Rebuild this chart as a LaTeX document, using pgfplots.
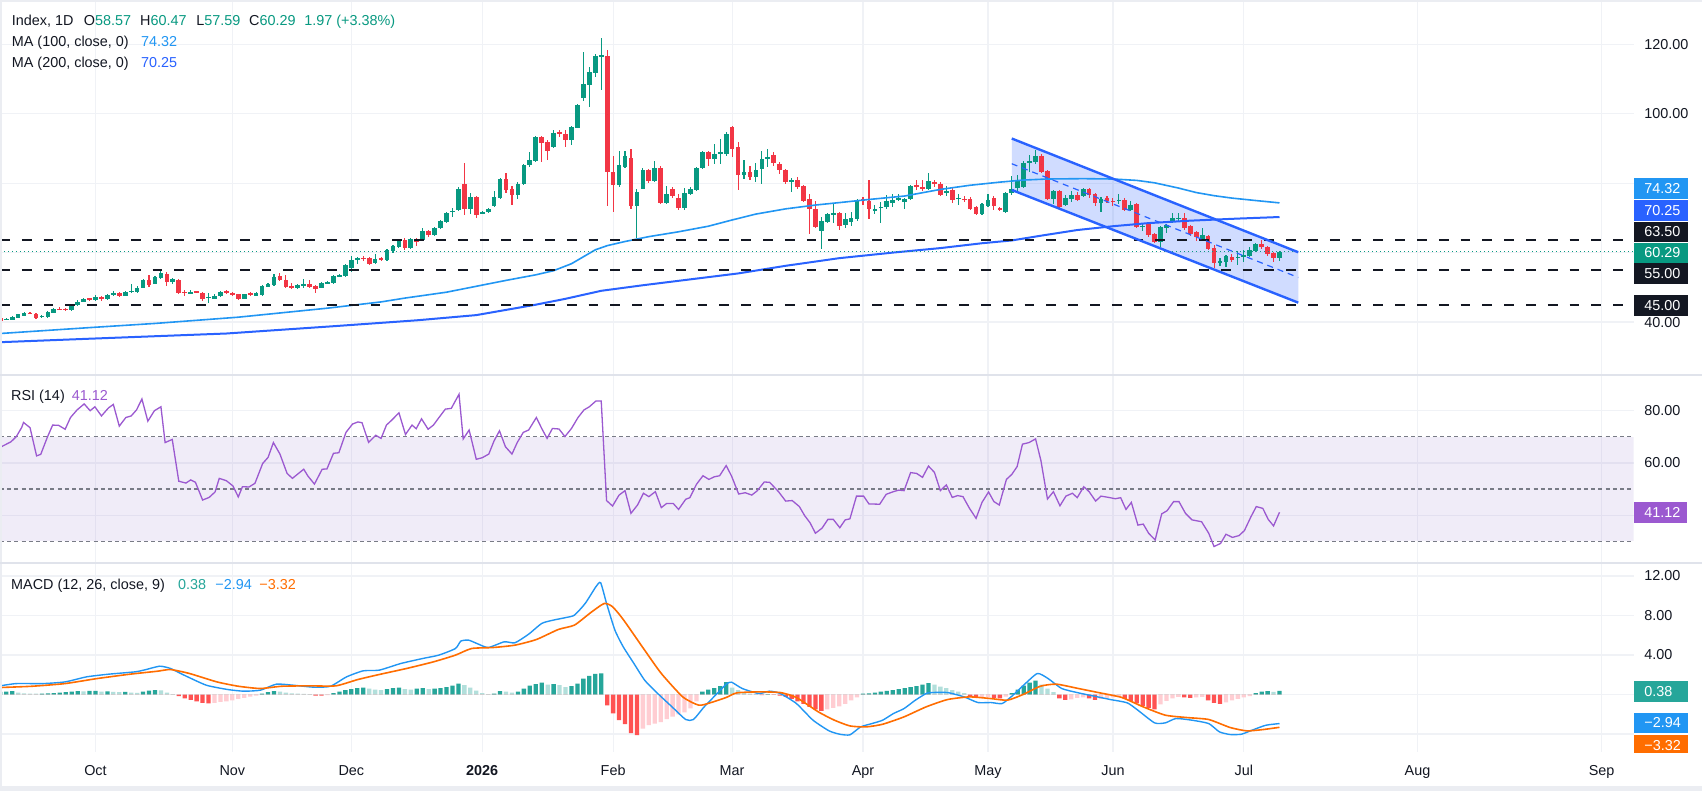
\documentclass[border=0pt]{standalone}
\usepackage{pgfplots}
\pgfplotsset{compat=1.18}
\usepackage{pgfplotstable}
\usepackage{fontspec}
\setmainfont{Liberation Sans}
\definecolor{tvgreen}{RGB}{8,153,129}
\definecolor{tvred}{RGB}{242,54,69}
\definecolor{ma100}{RGB}{33,150,243}
\definecolor{ma200}{RGB}{41,98,255}
\definecolor{chan}{RGB}{41,98,255}
\definecolor{txt}{RGB}{19,23,34}
\definecolor{gridc}{RGB}{240,242,246}
\definecolor{sepc}{RGB}{224,227,235}
\definecolor{framec}{RGB}{235,237,242}
\definecolor{rsic}{RGB}{155,89,208}
\definecolor{bandc}{RGB}{126,87,194}
\definecolor{rsidash}{RGB}{120,123,134}
\definecolor{macdc}{RGB}{33,150,243}
\definecolor{sigc}{RGB}{255,109,0}
\definecolor{hga}{RGB}{38,166,154}
\definecolor{hgb}{RGB}{178,223,219}
\definecolor{hra}{RGB}{255,82,82}
\definecolor{hrb}{RGB}{255,205,210}
\newcommand{\tvfont}{\fontsize{7.2}{8.6}\selectfont}
\pgfplotsset{
  tvpanel/.style={
    scale only axis, width=816.75pt,
    xmin=-0.05, xmax=274.5,
    axis line style={draw=none},
    major tick length=0pt, tick style={draw=none},
    xmajorgrids, ymajorgrids,
    major grid style={gridc, line width=0.6pt},
    xtick={16,39,59,81,103,123,145,166,187,209,238.2,269.15},
    xticklabels={},
    yticklabel pos=right,
    yticklabel style={anchor=west, inner sep=0pt, xshift=5.25pt, font=\tvfont, text=txt},
    scaled y ticks=false,
    anchor=north west,
  },
  wick/.style 2 args={only marks, mark=*, mark size=0pt, mark options={draw=none, fill=none},
    error bars/.cd, y dir=both, y explicit, error mark=none,
    error bar style={draw=#1, line width=#2}},
}
\pgfplotstableread{
k o h l c u
0 41.1 41.3 40.2 40.4 0
1 40.7 41.1 40.5 40.9 1
2 40.7 41.6 40.5 41.4 1
3 41.3 42.4 41.2 42.2 1
4 41.8 42.8 41.6 42.6 1
5 42.7 43.0 42.2 42.5 0
6 42.3 42.5 41.0 41.2 0
7 41.6 42.0 41.2 41.8 1
8 41.5 43.1 41.3 42.9 1
9 42.7 44.0 42.5 43.7 1
10 43.8 44.3 43.5 43.7 0
11 43.8 44.1 43.4 43.6 0
12 43.6 45.1 43.3 44.9 1
13 44.9 46.4 44.5 45.8 1
14 45.9 46.9 45.7 46.6 1
15 46.8 47.0 46.0 46.6 0
16 46.4 47.8 46.2 47.3 1
17 47.3 47.6 46.0 46.7 0
18 46.7 48.1 46.4 47.9 1
19 47.7 48.8 47.5 48.5 1
20 48.4 48.6 47.2 47.5 0
21 47.6 48.9 47.4 48.7 1
22 48.8 51.0 48.3 48.9 1
23 48.7 50.3 48.5 49.9 1
24 49.9 52.3 49.7 52.1 1
25 52.1 53.6 50.2 50.7 0
26 51.1 53.3 50.9 53.1 1
27 52.7 55.0 52.5 54.1 1
28 53.8 54.3 50.4 51.6 0
29 51.4 52.8 51.0 52.5 1
30 52.1 52.4 48.2 48.5 0
31 48.6 49.1 47.6 48.5 0
32 48.2 49.3 48.0 48.75 1
33 48.7 49.0 48.3 48.6 0
34 48.5 48.7 46.0 46.5 0
35 47.0 48.3 45.6 47.2 1
36 46.7 48.2 46.5 47.6 1
37 47.4 48.9 47.2 48.7 1
38 48.8 49.1 48.2 48.6 0
39 48.4 48.7 47.7 47.9 0
40 48.0 48.2 46.5 46.7 0
41 46.7 48.2 46.5 48.0 1
42 48.2 48.6 47.6 48.0 0
43 47.6 48.7 47.4 48.5 1
44 47.8 50.6 47.6 50.4 1
45 50.2 51.2 50.0 51.0 1
46 50.7 53.8 50.5 53.0 1
47 53.3 54.1 51.8 52.0 0
48 52.1 53.5 49.9 50.2 0
49 50.5 51.2 49.6 49.8 0
50 49.9 51.0 49.4 50.7 1
51 50.5 52.4 49.9 51.1 1
52 51.0 52.0 50.0 50.2 0
53 50.5 50.8 48.5 49.6 0
54 49.9 51.4 49.7 51.2 1
55 51.2 51.8 51.0 51.4 1
56 51.2 53.5 51.0 53.3 1
57 53.3 53.7 52.9 53.4 1
58 53.15 56.6 53.0 56.3 1
59 55.7 59.0 54.5 57.9 1
60 57.8 58.8 56.8 58.5 1
61 58.5 58.9 57.6 58.3 0
62 58.4 58.6 56.5 56.8 0
63 56.9 59.7 56.7 58.2 1
64 58.3 58.8 57.5 58.1 0
65 57.75 61.0 57.6 60.7 1
66 60.6 62.1 60.0 61.8 1
67 61.5 64.0 61.2 63.5 1
68 63.5 64.3 60.8 61.3 0
69 61.2 64.1 61.0 63.9 1
70 63.9 64.1 62.0 63.2 0
71 63.5 67.0 63.3 66.3 1
72 66.3 66.6 64.6 65.1 0
73 65.1 67.5 64.7 67.2 1
74 67.2 69.3 66.8 69.0 1
75 68.7 71.8 68.5 71.5 1
76 71.8 72.8 70.2 71.9 1
77 72.3 78.8 72.0 78.4 1
78 79.8 85.9 70.7 72.6 0
79 72.6 77.2 71.2 76.1 1
80 76.1 76.4 70.1 70.9 0
81 71.4 71.9 71.1 71.6 1
82 71.7 72.8 71.4 72.6 1
83 73.5 77.7 73.2 76.1 1
84 75.8 81.6 75.5 81.3 1
85 81.2 82.8 77.3 78.1 0
86 78.4 79.3 73.8 76.7 0
87 76.6 80.3 75.5 79.8 1
88 79.8 85.6 79.5 85.3 1
89 85.1 89.1 84.8 86.7 1
90 86.4 93.7 86.1 93.4 1
91 93.4 93.7 86.1 91.7 0
92 91.8 92.3 86.7 89.2 0
93 90.5 95.2 90.2 94.5 1
94 94.5 95.4 93.4 94.4 0
95 94.1 95.4 90.5 92.5 0
96 92.5 96.5 91.0 96.2 1
97 96.0 102.8 95.8 102.5 1
98 104.4 117.8 103.8 108.6 1
99 108.3 113.5 102.0 112.1 1
100 111.8 117.3 110.5 116.6 1
101 116.6 121.7 106.7 116.7 1
102 116.6 118.3 73.3 83.1 0
103 83.1 87.8 71.6 79.6 0
104 79.4 89.2 79.0 85.1 1
105 84.8 89.2 84.5 87.7 1
106 87.3 89.8 72.5 73.3 0
107 73.3 78.2 64.2 77.5 1
108 78.4 84.3 78.2 83.9 1
109 83.9 84.2 80.0 80.7 0
110 80.7 86.3 80.3 84.5 1
111 84.5 84.9 74.2 74.4 0
112 74.4 79.3 74.1 77.0 1
113 78.2 78.8 75.7 76.4 0
114 75.8 76.9 72.2 72.9 0
115 72.9 78.6 72.4 77.3 1
116 77.0 78.8 76.5 78.4 1
117 78.1 84.8 77.8 84.5 1
118 84.4 89.4 84.1 89.1 1
119 89.1 89.4 85.0 87.1 0
120 87.1 91.4 85.6 88.5 1
121 88.4 92.7 85.4 89.1 1
122 88.5 94.6 87.9 94.1 1
123 96.3 96.6 87.4 89.7 0
124 90.3 91.8 77.9 82.3 0
125 82.3 86.8 81.3 83.3 1
126 83.3 84.9 80.9 81.9 0
127 81.9 85.7 80.3 83.9 1
128 84.2 89.4 79.8 87.1 1
129 87.2 89.9 84.8 87.3 1
130 88.2 89.1 84.9 85.7 0
131 85.6 86.2 82.7 83.7 0
132 83.9 84.2 79.7 80.4 0
133 80.2 81.6 77.4 81.0 1
134 81.0 81.9 78.3 79.0 0
135 79.3 79.6 74.7 75.0 0
136 75.5 76.8 65.4 72.6 0
137 72.6 74.8 67.2 67.5 0
138 66.3 70.4 60.9 69.2 1
139 68.9 71.5 68.6 71.2 1
140 71.1 74.4 68.4 71.2 1
141 71.5 71.8 66.6 67.7 0
142 68.0 71.4 67.1 69.75 1
143 68.8 71.6 67.7 70.0 1
144 69.7 75.5 69.2 75.2 1
145 75.3 76.1 73.8 75.0 0
146 75.0 81.0 69.6 72.6 0
147 72.2 73.8 71.2 72.6 1
148 73.0 74.6 68.4 73.2 1
149 73.0 76.6 72.7 74.9 1
150 74.3 76.8 73.2 75.2 1
151 75.5 76.8 74.8 75.6 1
152 74.6 75.8 72.7 75.5 1
153 75.4 79.6 75.1 79.3 1
154 79.6 81.0 78.0 78.8 0
155 78.9 80.9 77.8 78.3 0
156 78.2 83.0 77.9 80.7 1
157 80.2 80.8 78.9 79.9 0
158 79.9 80.4 76.2 76.5 0
159 77.1 79.2 76.3 77.8 1
160 77.9 78.6 74.2 75.2 0
161 75.6 76.8 73.8 75.8 1
162 75.5 76.3 74.6 75.3 0
163 75.5 76.0 72.2 72.7 0
164 73.0 73.3 70.7 71.0 0
165 71.0 74.2 70.7 73.9 1
166 73.5 77.0 73.2 75.2 1
167 75.8 76.3 72.3 73.3 0
168 72.8 73.2 72.1 72.6 0
169 71.8 77.5 71.5 77.2 1
170 77.1 82.1 76.6 78.4 1
171 78.6 82.4 77.6 80.7 1
172 79.0 86.3 78.7 85.9 1
173 86.1 88.2 83.3 86.3 1
174 86.0 89.5 85.5 87.7 1
175 87.7 88.5 82.9 83.2 0
176 83.6 83.9 75.2 75.5 0
177 75.5 78.1 73.9 77.8 1
178 77.8 78.1 72.5 73.1 0
179 73.6 76.7 73.3 75.7 1
180 75.5 77.8 74.5 76.6 1
181 76.6 77.4 74.8 75.2 0
182 76.2 78.6 75.9 78.2 1
183 78.2 78.5 75.7 76.7 0
184 76.9 77.2 73.5 74.4 0
185 74.3 76.0 71.6 75.5 1
186 75.7 76.4 74.3 74.8 0
187 74.9 75.6 73.5 74.7 0
188 74.9 77.0 74.0 75.2 1
189 75.2 75.6 72.0 72.3 0
190 72.3 75.0 72.0 73.8 1
191 74.0 74.3 67.2 67.5 0
192 67.5 68.6 66.3 67.8 1
193 68.2 68.8 64.6 65.1 0
194 65.4 65.7 62.8 63.1 0
195 63.1 67.8 61.5 67.5 1
196 67.0 68.2 65.7 67.9 1
197 68.9 71.3 68.4 70.0 1
198 69.8 71.4 68.9 70.0 1
199 70.0 71.3 66.5 67.0 0
200 67.7 68.0 64.9 65.4 0
201 65.8 66.1 63.3 64.4 0
202 63.7 67.1 63.4 65.2 1
203 64.9 65.2 60.7 61.1 0
204 61.4 62.2 55.7 56.9 0
205 57.3 58.5 56.1 57.5 1
206 57.3 59.3 55.9 59.0 1
207 58.8 59.6 57.2 57.9 0
208 58.5 60.5 56.3 58.7 1
209 58.8 60.8 57.2 59.2 1
210 59.0 61.5 58.7 60.8 1
211 60.6 62.7 60.3 62.4 1
212 62.4 63.6 60.9 61.5 0
213 61.6 61.9 58.9 59.6 0
214 60.0 60.3 57.2 58.32 0
215 58.57 60.47 57.59 60.29 1
}\candles
\pgfplotstableread{
k v c
0 0.27 0
1 0.30 0
2 0.34 0
3 0.20 1
4 0.12 1
5 0.10 1
6 0.08 1
7 0.10 0
8 0.12 0
9 0.15 0
10 0.20 0
11 0.25 0
12 0.30 0
13 0.35 0
14 0.33 1
15 0.36 0
16 0.38 0
17 0.30 1
18 0.32 0
19 0.28 1
20 0.25 1
21 0.27 0
22 0.20 1
23 0.18 1
24 0.30 0
25 0.40 0
26 0.45 0
27 0.42 1
28 0.20 1
29 0.05 1
30 -0.15 2
31 -0.40 2
32 -0.55 2
33 -0.70 2
34 -0.85 2
35 -0.90 2
36 -0.85 3
37 -0.75 3
38 -0.70 3
39 -0.60 3
40 -0.45 3
41 -0.35 3
42 -0.20 3
43 -0.10 3
44 0.10 0
45 0.25 0
46 0.35 0
47 0.30 1
48 0.20 1
49 0.12 1
50 0.10 1
51 0.06 1
52 0.03 1
53 -0.10 2
54 -0.12 2
55 -0.05 3
56 0.15 0
57 0.30 0
58 0.45 0
59 0.55 0
60 0.65 0
61 0.70 0
62 0.60 1
63 0.50 1
64 0.45 1
65 0.55 0
66 0.65 0
67 0.70 0
68 0.55 1
69 0.50 1
70 0.60 0
71 0.65 0
72 0.55 1
73 0.60 0
74 0.65 0
75 0.75 0
76 0.90 0
77 1.10 0
78 0.95 1
79 0.70 1
80 0.40 1
81 0.15 1
82 0.05 1
83 0.10 0
84 0.35 0
85 0.30 1
86 0.20 1
87 0.30 0
88 0.60 0
89 0.90 0
90 1.05 0
91 1.20 0
92 1.00 1
93 1.05 0
94 0.95 1
95 0.75 1
96 0.85 0
97 1.10 0
98 1.60 0
99 1.90 0
100 2.10 0
101 2.15 0
102 -1.10 2
103 -1.90 2
104 -2.60 2
105 -3.00 2
106 -3.90 2
107 -4.10 2
108 -3.45 3
109 -3.10 3
110 -2.95 3
111 -2.80 3
112 -2.50 3
113 -2.25 3
114 -2.00 3
115 -1.80 3
116 -1.40 3
117 -0.70 3
118 0.30 0
119 0.50 0
120 0.65 0
121 0.85 0
122 1.25 0
123 0.70 1
124 0.45 1
125 0.20 1
126 0.10 1
127 0.05 1
128 -0.05 2
129 0.04 0
130 -0.04 2
131 -0.10 2
132 -0.25 2
133 -0.45 2
134 -0.70 2
135 -0.95 2
136 -1.25 2
137 -1.50 2
138 -1.65 2
139 -1.50 3
140 -1.35 3
141 -1.20 3
142 -0.95 3
143 -0.60 3
144 -0.30 3
145 0.10 0
146 0.12 0
147 0.20 0
148 0.30 0
149 0.38 0
150 0.45 0
151 0.55 0
152 0.65 0
153 0.75 0
154 0.85 0
155 1.00 0
156 1.15 0
157 1.00 1
158 0.80 1
159 0.65 1
160 0.45 1
161 0.30 1
162 0.15 1
163 -0.15 2
164 -0.30 2
165 -0.30 3
166 -0.25 3
167 -0.35 2
168 -0.40 2
169 -0.20 3
170 0.15 0
171 0.50 0
172 0.90 0
173 1.20 0
174 1.40 0
175 1.00 1
176 0.60 1
177 0.25 1
178 -0.40 2
179 -0.55 2
180 -0.50 3
181 -0.35 3
182 -0.30 3
183 -0.40 2
184 -0.55 2
185 -0.45 3
186 -0.35 3
187 -0.30 3
188 -0.25 3
189 -0.45 2
190 -0.65 2
191 -0.90 2
192 -1.15 2
193 -1.35 2
194 -1.50 2
195 -1.00 3
196 -0.65 3
197 -0.40 3
198 -0.25 3
199 -0.30 2
200 -0.35 2
201 -0.30 3
202 -0.25 3
203 -0.60 2
204 -0.85 2
205 -0.95 2
206 -0.80 3
207 -0.60 3
208 -0.45 3
209 -0.30 3
210 -0.15 3
211 0.15 0
212 0.30 0
213 0.35 0
214 0.28 1
215 0.38 0
}\hist
\begin{document}
\begin{tikzpicture}
\fill[white] (0,0) rectangle (851pt,-395.5pt);
% ---------------- price panel
\begin{axis}[tvpanel, at={(0pt,-1pt)}, height=186.5pt,
  ymin=24.75, ymax=132.18,
  ytick={40,60,80,100,120}, yticklabels={40.00,,,100.00,120.00}]
\addplot[draw=none, fill=chan, fill opacity=0.22, forget plot] coordinates {(170,92.86) (218.15,60.11) (218.15,45.59) (170,78.05)} -- cycle;
% wicks (zero length where the candle is of the other colour)
\addplot[wick={tvgreen}{0.55pt}]
  table[x=k, y=c,
    y error plus expr={(\thisrow{u}>0.5) ? (\thisrow{h}-\thisrow{c}) : 0},
    y error minus expr={(\thisrow{u}>0.5) ? (\thisrow{c}-\thisrow{l}) : 0}] {\candles};
\addplot[wick={tvred}{0.55pt}]
  table[x=k, y=c,
    y error plus expr={(\thisrow{u}<0.5) ? (\thisrow{h}-\thisrow{c}) : 0},
    y error minus expr={(\thisrow{u}<0.5) ? (\thisrow{c}-\thisrow{l}) : 0}] {\candles};
% bodies
\addplot[wick={tvgreen}{2.35pt}]
  table[x=k, y expr={(\thisrow{o}+\thisrow{c})/2},
    y error expr={(\thisrow{u}>0.5) ? max(abs(\thisrow{c}-\thisrow{o})/2,0.15) : 0}] {\candles};
\addplot[wick={tvred}{2.35pt}]
  table[x=k, y expr={(\thisrow{o}+\thisrow{c})/2},
    y error expr={(\thisrow{u}<0.5) ? max(abs(\thisrow{c}-\thisrow{o})/2,0.15) : 0}] {\candles};
% moving averages
\addplot[ma100, line width=0.8pt, mark=none] coordinates {(0,36.7) (15,38.4) (26,39.6) (40,41.4) (55,44.0) (64,45.8) (68,46.9) (75,48.6) (80,50.3) (85,52.0) (90,53.6) (93,54.8) (96,56.8) (98,58.8) (100,60.8) (102,62.0) (105,63.2) (109,64.6) (114,66.0) (119,67.6) (123,69.4) (127,71.1) (132,72.6) (137,73.7) (141,74.4) (146,75.3) (152,76.3) (158,78.2) (163,79.4) (168,80.3) (172,80.9) (176,81.2) (182,81.3) (187,81.2) (191,80.8) (194,80.1) (198,78.6) (201,77.3) (204,76.4) (207,75.7) (211,75.0) (215,74.32)};
\addplot[ma200, line width=1pt, mark=none] coordinates {(0,34.2) (15,35.2) (38,36.7) (56,38.8) (70,40.5) (80,42.0) (90,45.0) (95,46.7) (101,49.0) (108,50.6) (116,52.3) (124,54.0) (132,56.2) (141,58.4) (150,60.0) (158,61.3) (165,62.7) (170,63.5) (175,64.9) (181,66.5) (187,67.6) (193,68.5) (200,69.2) (208,69.8) (215,70.25)};
% horizontal levels
\addplot[txt, line width=1pt, dash pattern=on 4.85pt off 6.05pt, mark=none] coordinates {(-0.05,63.5) (274.5,63.5)};
\addplot[txt, line width=1pt, dash pattern=on 4.85pt off 6.05pt, mark=none] coordinates {(-0.05,55) (274.5,55)};
\addplot[txt, line width=1pt, dash pattern=on 4.85pt off 6.05pt, mark=none] coordinates {(-0.05,45) (274.5,45)};
\addplot[tvgreen, line width=0.6pt, dash pattern=on 0.7pt off 1.3pt, mark=none] coordinates {(-0.05,60.29) (274.5,60.29)};
% channel
\addplot[chan, line width=1.2pt, mark=none] coordinates {(170,92.86) (218.15,60.11)};
\addplot[chan, line width=1.2pt, mark=none] coordinates {(170,78.05) (218.15,45.59)};
\addplot[chan, line width=0.6pt, dash pattern=on 3pt off 2.5pt, mark=none] coordinates {(170,85.6) (218.15,52.84)};
\end{axis}
% ---------------- RSI panel
\begin{axis}[tvpanel, at={(0pt,-187.5pt)}, height=93.85pt,
  ymin=21.81, ymax=93.67,
  ytick={40,60,80}, yticklabels={,60.00,80.00}]
\addplot[draw=none, fill=bandc, fill opacity=0.11] coordinates {(-0.05,30) (274.5,30) (274.5,70) (-0.05,70)} -- cycle;
\addplot[rsidash, line width=0.6pt, dash pattern=on 2pt off 1.6pt, mark=none] coordinates {(-0.05,70) (274.5,70)};
\addplot[rsidash, line width=0.6pt, dash pattern=on 2pt off 1.6pt, mark=none] coordinates {(-0.05,50) (274.5,50)};
\addplot[rsidash, line width=0.6pt, dash pattern=on 2pt off 1.6pt, mark=none] coordinates {(-0.05,30) (274.5,30)};
\addplot[rsic, line width=0.65pt, mark=none] coordinates {(0,66.0) (1.8,68.1) (2.7,70.1) (3.6,73.6) (3.9,75.5) (5,73.5) (6.1,62.7) (6.8,63.3) (7.9,69.8) (8.8,74.5) (9.8,74.4) (10.9,72.9) (11.8,77.4) (12.9,80.3) (14.1,82.6) (15.1,80.0) (15.9,81.5) (17,78.0) (18.2,81.1) (19,82.4) (20,74.1) (21.1,77.4) (22,78.0) (22.9,80.3) (23.8,84.5) (24.8,76.0) (25.9,80.0) (27,81.5) (27.7,67.8) (28.9,69.0) (30,53.0) (31.2,52.3) (32,53.5) (32.8,52.6) (34,45.8) (35.1,46.8) (36.1,48.9) (36.8,54.1) (38,53.2) (39.1,51.2) (40,47.0) (40.7,50.9) (41.8,50.8) (42.8,52.2) (44.1,59.8) (45,62.1) (45.9,67.8) (47,63.4) (48.2,56.0) (49.1,54.1) (49.8,55.4) (51,57.6) (51.7,55.0) (52.8,51.9) (54.1,57.6) (54.9,57.7) (56,63.7) (56.9,63.9) (58.1,71.7) (59.2,74.9) (60.1,75.7) (60.8,75.4) (61.9,67.9) (63.1,70.6) (64,69.4) (64.9,74.5) (65.8,76.4) (67,79.2) (68.1,70.9) (69.2,74.5) (69.9,73.1) (70.8,76.9) (71.9,72.9) (72.8,74.5) (73.7,77.3) (74.8,80.6) (75.8,80.9) (77.1,86.3) (77.8,69.2) (78.8,72.6) (80,61.4) (81,62.0) (82.1,63.4) (83,68.5) (83.9,72.3) (84.9,66.2) (86,63.4) (86.9,67.9) (87.9,71.7) (88.8,72.6) (90.1,77.4) (91,73.2) (91.9,69.4) (92.8,73.2) (93.9,73.0) (94.9,70.1) (96,73.2) (97.1,77.4) (98.1,80.3) (99,81.5) (100.1,83.7) (101,83.7) (101.9,45.6) (102.9,43.5) (104,47.7) (105,49.4) (106,40.7) (107.1,43.9) (108.1,48.4) (109,47.1) (110.1,49.0) (111.1,42.9) (112,44.5) (113.1,44.5) (114,42.2) (115.2,46.1) (115.9,46.7) (117,51.8) (118.1,55.1) (119.1,53.7) (120,54.7) (120.9,55.1) (122,59.0) (122.9,55.0) (124.1,48.1) (125.2,48.6) (126.3,47.7) (127.2,49.3) (128.4,52.7) (129.3,52.6) (130.8,49.0) (132,45.4) (133.1,45.6) (134.3,43.3) (135.2,39.8) (136.1,37.1) (137,33.1) (138.1,35.0) (139.1,38.4) (140,38.4) (141.1,35.2) (142,38.2) (142.8,38.6) (143.9,47.3) (145.1,47.3) (146,44.3) (147.8,44.2) (148.9,48.0) (150.1,49.0) (151,49.6) (151.9,49.4) (153,56.3) (154,56.0) (155,54.5) (156,58.8) (157,56.4) (158,49.4) (159,51.6) (160,46.8) (160.9,47.5) (161.8,47.1) (162.9,42.6) (164,38.8) (165,44.9) (166.1,48.9) (167,45.2) (167.9,43.9) (169.1,53.7) (170,55.6) (170.9,58.6) (171.8,67.2) (172.9,67.8) (174,69.2) (174.9,60.9) (176,46.2) (177,49.0) (178.1,43.6) (179.1,47.3) (180.2,48.4) (181,46.7) (182.1,50.9) (183,49.0) (184.1,45.4) (185,47.3) (186.3,46.8) (187.4,46.3) (188.3,46.7) (189.2,42.2) (190.1,44.9) (191.2,36.2) (192.1,36.6) (193,33.1) (194.1,30.5) (195.2,40.5) (196.1,41.7) (197.2,45.2) (198.1,45.2) (199.2,40.7) (200.3,38.2) (201.9,37.5) (203.1,33.1) (204,28.0) (205.1,29.2) (206,32.7) (207.1,31.5) (208.2,32.2) (209.1,34.1) (210.2,39.4) (211.1,43.3) (212.2,42.6) (213.1,38.4) (214,35.9) (215,41.12)};
\end{axis}
% ---------------- MACD panel
\begin{axis}[tvpanel, at={(0pt,-281.35pt)}, height=94.5pt,
  ymin=-5.79, ymax=13.35,
  ytick={-4,0,4,8,12}, yticklabels={,,4.00,8.00,12.00},
  xticklabels={Oct,Nov,Dec,\textbf{2026},Feb,Mar,Apr,May,Jun,Jul,Aug,Sep},
  xticklabel style={anchor=base, inner sep=0pt, yshift=-11.65pt, font=\tvfont, text=txt}]
\addplot[ybar, bar width=0.72, bar shift=0pt, fill=hga, draw=none] table[x=k, y expr={(\thisrow{c}<0.5) ? \thisrow{v} : 0}] {\hist};
\addplot[ybar, bar width=0.72, bar shift=0pt, fill=hgb, draw=none] table[x=k, y expr={(\thisrow{c}>0.5 && \thisrow{c}<1.5) ? \thisrow{v} : 0}] {\hist};
\addplot[ybar, bar width=0.72, bar shift=0pt, fill=hra, draw=none] table[x=k, y expr={(\thisrow{c}>1.5 && \thisrow{c}<2.5) ? \thisrow{v} : 0}] {\hist};
\addplot[ybar, bar width=0.72, bar shift=0pt, fill=hrb, draw=none] table[x=k, y expr={(\thisrow{c}>2.5) ? \thisrow{v} : 0}] {\hist};
\addplot[macdc, line width=0.7pt, mark=none, smooth, tension=0.35] coordinates {(0,0.88) (2.7,1.11) (7.2,1.11) (10.9,1.28) (14.5,1.79) (18.2,2.06) (22.7,2.30) (24.5,2.53) (26.8,2.87) (28.6,2.64) (30.9,1.96) (34.6,0.95) (38.2,0.51) (40.9,0.34) (43.7,0.44) (46.4,1.05) (49.1,0.95) (52.8,0.74) (55.5,0.84) (58.2,1.79) (61,2.40) (63.7,2.47) (67.3,3.14) (71,3.65) (73.7,3.99) (76.5,4.66) (77.4,5.41) (78.7,5.51) (80.1,5.17) (82,4.76) (84.7,5.34) (86.5,5.24) (88.8,6.11) (91,7.20) (92.9,7.53) (95.1,7.80) (96.5,8.04) (98.3,9.22) (100.1,10.91) (100.9,11.32) (101.9,9.22) (103.3,6.52) (104.7,4.83) (106.5,3.14) (108.3,1.45) (110.2,0.27) (112.9,-1.25) (115.2,-2.53) (116.5,-2.53) (118.3,-1.25) (120.2,-0.07) (122,1.05) (122.9,1.25) (124.7,0.61) (127.5,0.10) (129.3,0.34) (131.1,0.10) (133.8,-0.91) (136.6,-2.60) (139.3,-3.68) (141.1,-4.02) (142.8,-4.08) (144.6,-3.28) (146.5,-2.94) (148.3,-2.60) (150.1,-1.93) (151.9,-1.42) (153.8,-0.57) (155.6,0.10) (156.5,0.20) (159.2,0.20) (162,-0.24) (164.3,-0.81) (166.5,-0.81) (168.4,-0.91) (170.2,-0.07) (172,0.95) (174.3,2.13) (176.1,1.62) (178.4,0.61) (181.2,0.17) (183.9,-0.17) (186.6,-0.51) (189.4,-0.84) (191.2,-1.59) (194,-2.87) (195.8,-2.87) (197.6,-2.43) (200.3,-2.60) (203.1,-2.94) (204.9,-3.78) (206.7,-4.05) (208.6,-4.02) (210.4,-3.61) (212.7,-3.11) (215,-2.94)};
\addplot[sigc, line width=0.8pt, mark=none, smooth, tension=0.35] coordinates {(0,0.71) (5.4,0.84) (10.9,1.11) (16.3,1.62) (21.8,2.06) (26.4,2.36) (28.6,2.53) (31.8,2.13) (36.4,1.28) (40,0.84) (43.7,0.61) (47.3,0.84) (51.9,0.88) (56.4,0.88) (60.1,1.52) (63.7,2.03) (68.3,2.64) (72.8,3.31) (76.5,3.99) (79.2,4.66) (82.8,4.76) (86.5,5.00) (90.1,5.57) (93.8,6.59) (96.5,7.03) (99.2,8.28) (101.5,9.22) (102.9,8.89) (104.7,7.60) (108.3,4.49) (111.1,2.13) (114.7,-0.24) (117.4,-1.08) (119.3,-0.84) (122,-0.30) (123.8,0.17) (127.5,0.27) (131.1,0.20) (133.8,-0.30) (137.5,-1.76) (140.2,-2.60) (142.8,-3.18) (145.5,-3.28) (148.3,-3.01) (151.9,-2.26) (155.6,-1.25) (159.2,-0.51) (162.9,-0.24) (166.5,-0.41) (169.3,-0.57) (172,0.03) (174.8,0.84) (177.5,1.05) (181.2,0.61) (184.8,0.17) (188.5,-0.30) (192.1,-1.25) (195.8,-2.09) (199.4,-2.33) (203.1,-2.53) (206.7,-3.34) (209.5,-3.68) (212.2,-3.55) (215,-3.32)};
\end{axis}
% ---------------- annotations (pixel grid of the reference)
\begin{scope}[x=0.5pt, y=-0.5pt]
\fill[framec] (0,0) rectangle (1702,2);
\fill[framec] (0,786) rectangle (1702,791);
\fill[framec] (0,0) rectangle (1.5,791);
\draw[sepc, line width=0.8pt] (0,375) -- (1702,375);
\draw[sepc, line width=0.8pt] (0,562.7) -- (1702,562.7);
\begin{scope}[every node/.style={inner sep=0pt, font=\tvfont, text=txt}]
\node[anchor=base west] at (11.5,25.7) {Index, 1D};
\node[anchor=base west] at (83.4,25.7) {O\textcolor{tvgreen}{58.57}};
\node[anchor=base west] at (139.7,25.7) {H\textcolor{tvgreen}{60.47}};
\node[anchor=base west] at (196,25.7) {L\textcolor{tvgreen}{57.59}};
\node[anchor=base west] at (248.8,25.7) {C\textcolor{tvgreen}{60.29}};
\node[anchor=base west, text=tvgreen] at (304,25.7) {1.97 (+3.38\%)};
\node[anchor=base west] at (11.5,46.7) {MA (100, close, 0)};
\node[anchor=base west, text=ma100] at (140.8,46.7) {74.32};
\node[anchor=base west] at (11.5,67.7) {MA (200, close, 0)};
\node[anchor=base west, text=ma200] at (140.8,67.7) {70.25};
\node[anchor=base west] at (10.8,400.7) {RSI (14)};
\node[anchor=base west, text=rsic] at (71.5,400.7) {41.12};
\node[anchor=base west] at (10.8,589) {MACD (12, 26, close, 9)};
\node[anchor=base west, text=hga] at (177.8,589) {0.38};
\node[anchor=base west, text=macdc] at (215,589) {−2.94};
\node[anchor=base west, text=sigc] at (259,589) {−3.32};
\end{scope}
% value boxes
\begin{scope}[every node/.style={inner sep=0pt, font=\tvfont, text=white, anchor=west}]
\fill[ma100] (1634,178.3) rectangle (1688,199); \node at (1644,188.7) {74.32};
\fill[ma200] (1634,200) rectangle (1688,221); \node at (1644,210.5) {70.25};
\fill[txt] (1634,221.7) rectangle (1688,241.7); \node at (1644,231.7) {63.50};
\fill[tvgreen] (1634,242.7) rectangle (1688,263.3); \node at (1644,253) {60.29};
\fill[txt] (1634,263.3) rectangle (1688,284); \node at (1644,273.7) {55.00};
\fill[txt] (1634,295) rectangle (1688,315.7); \node at (1644,305.3) {45.00};
\fill[rsic] (1634,502.3) rectangle (1687,522.7); \node at (1644,512.5) {41.12};
\fill[hga] (1634,681) rectangle (1688,701.7); \node at (1644,691.3) {0.38};
\fill[macdc] (1634,712.7) rectangle (1688,733.3); \node at (1644,723) {−2.94};
\fill[sigc] (1634,735) rectangle (1688,752.7); \node at (1644,745.5) {−3.32};
\end{scope}
\end{scope}
\pgfresetboundingbox
\path[use as bounding box] (0,0) rectangle (851pt,-395.5pt);
\end{tikzpicture}
\end{document}
